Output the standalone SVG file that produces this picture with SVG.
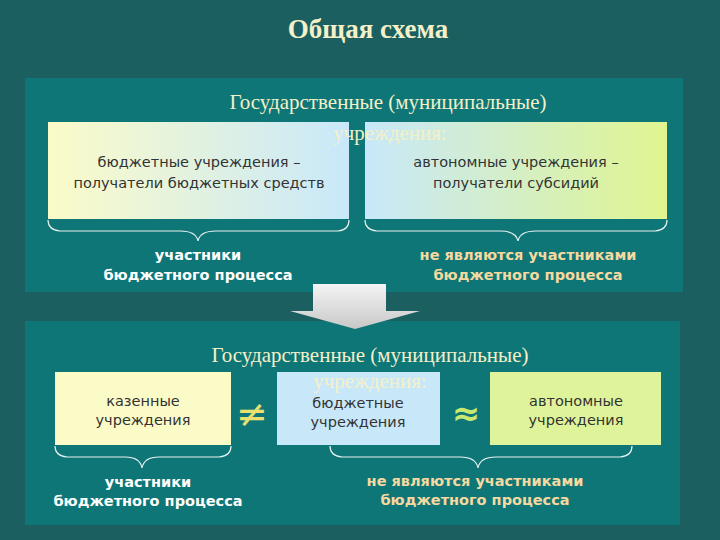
<svg xmlns="http://www.w3.org/2000/svg" width="720" height="540" viewBox="0 0 720 540">
<defs>
<linearGradient id="g1" x1="0" x2="1" y1="0" y2="0"><stop offset="0" stop-color="#fbfbc8"/><stop offset="1" stop-color="#c8e8fa"/></linearGradient>
<linearGradient id="g2" x1="0" x2="1" y1="0" y2="0"><stop offset="0" stop-color="#c8e8fa"/><stop offset="1" stop-color="#e0f590"/></linearGradient>
<linearGradient id="ga" x1="0" x2="0" y1="0" y2="1"><stop offset="0" stop-color="#f4f4f4"/><stop offset="1" stop-color="#c8c8c8"/></linearGradient>
<style>
.h{font-family:"Liberation Serif",serif;font-size:21px;fill:#f4f0c8;text-anchor:middle}
.b{font-family:"DejaVu Sans",sans-serif;font-size:14.5px;fill:#333;text-anchor:middle}
.w{font-family:"DejaVu Sans",sans-serif;font-size:14.5px;font-weight:bold;fill:#fff;text-anchor:middle}
.o{font-family:"DejaVu Sans",sans-serif;font-size:14.5px;font-weight:bold;fill:#f5d9a0;text-anchor:middle}
.br{fill:none;stroke:#e8f0f0;stroke-width:1.2}
</style>
</defs>
<rect width="720" height="540" fill="#1b5f60"/>
<text x="368" y="38" font-family="Liberation Serif,serif" font-size="27" font-weight="bold" fill="#f4f0c8" text-anchor="middle">Общая схема</text>
<rect x="25" y="78" width="658" height="214" fill="#0e7676"/>
<rect x="25" y="321" width="655" height="204" fill="#0e7676"/>
<g id="arrow"><path d="M313 284H386V311H420L355 329L290 311H313Z" fill="url(#ga)"/></g>
<text class="h" x="388" y="109">Государственные (муниципальные)</text>
<g id="n1"><rect x="48" y="122" width="301" height="97" fill="url(#g1)"/><text class="b" x="199" y="167">бюджетные учреждения –</text><text class="b" x="199" y="188">получатели бюджетных средств</text></g>
<g id="n2"><rect x="365" y="122" width="302" height="97" fill="url(#g2)"/><text class="b" x="516" y="167">автономные учреждения –</text><text class="b" x="516" y="188">получатели субсидий</text></g>
<text class="h" x="390" y="140">учреждения:</text>
<g id="connectors">
<path class="br" d="M48 220Q48 230 60 231H180Q196 231 198 241Q200 231 216 231H338Q349 230 349 220"/>
<path class="br" d="M365 220Q365 230 377 231H500Q516 231 518 241Q520 231 536 231H655Q667 230 667 220"/>
<path class="br" d="M55 446Q55 456 67 457H125Q140 457 142 468Q144 457 159 457H219Q231 456 231 446"/>
<path class="br" d="M330 446Q330 456 342 457H460Q476 457 478 468Q480 457 496 457H620Q632 456 632 446"/>
</g>
<text class="w" x="198" y="260">участники</text><text class="w" x="198" y="280">бюджетного процесса</text>
<text class="o" x="528" y="260">не являются участниками</text><text class="o" x="528" y="280">бюджетного процесса</text>
<text class="h" x="370" y="362">Государственные (муниципальные)</text>
<g id="n3"><rect x="55" y="372" width="176" height="73" fill="#fbfbc8"/><text class="b" x="143" y="406">казенные</text><text class="b" x="143" y="425">учреждения</text></g>
<g id="n4"><rect x="277" y="372" width="163" height="73" fill="#c8e8fa"/><text class="b" x="358" y="408">бюджетные</text><text class="b" x="358" y="427">учреждения</text></g>
<g id="n5"><rect x="490" y="372" width="171" height="73" fill="#dff39a"/><text class="b" x="576" y="406">автономные</text><text class="b" x="576" y="425">учреждения</text></g>
<text class="h" x="370" y="388">учреждения:</text>
<text x="252" y="427" font-family="DejaVu Sans,sans-serif" font-size="38" fill="#e8e070" text-anchor="middle">≠</text>
<text x="466" y="425" font-family="DejaVu Sans,sans-serif" font-size="34" font-weight="bold" fill="#c8e870" text-anchor="middle">≈</text>
<text class="w" x="148" y="487">участники</text><text class="w" x="148" y="506">бюджетного процесса</text>
<text class="o" x="475" y="486">не являются участниками</text><text class="o" x="475" y="505">бюджетного процесса</text>
</svg>
